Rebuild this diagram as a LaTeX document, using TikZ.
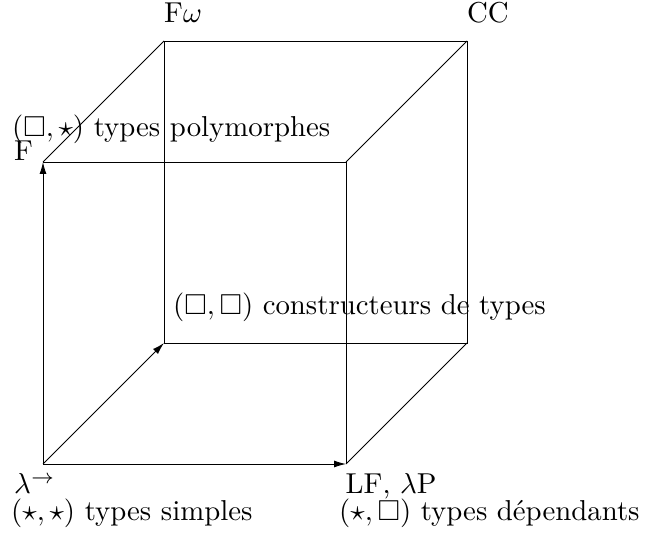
\documentclass[tikz,border=0pt]{standalone}
\usepackage{amssymb}
\usepackage{graphicx}
\usetikzlibrary{arrows.meta}
\newcommand{\lbl}[1]{\scalebox{2.88}{#1}}
\begin{document}
\begin{tikzpicture}[x=1pt,y=-1pt,
  edge/.style={line width=0.9pt},
  arr/.style={line width=0.9pt,-{Latex[length=12pt,width=7pt]}},
  lab/.style={inner sep=0pt,anchor=base west}]
\useasboundingbox (0,0) rectangle (649,537);
% corners
\coordinate (fbl) at (43,464);
\coordinate (fbr) at (346,464);
\coordinate (ftl) at (43,162);
\coordinate (ftr) at (346,162);
\coordinate (bbl) at (164,343);
\coordinate (bbr) at (467,343);
\coordinate (btl) at (164,41);
\coordinate (btr) at (467,41);
% edges
\draw[edge] (ftl) -- (ftr) -- (fbr);
\draw[edge] (bbl) -- (bbr) -- (btr) -- (btl) -- (bbl);
\draw[edge] (ftl) -- (btl);
\draw[edge] (ftr) -- (btr);
\draw[edge] (fbr) -- (bbr);
\draw[arr] (fbl) -- (ftl);
\draw[arr] (fbl) -- (fbr);
\draw[arr] (fbl) -- (bbl);
% labels
\node[lab] (lFw) at (164,23) {\lbl{F$\omega$}};
\node[lab] (lCC) at (467,23) {\lbl{CC}};
\node[lab] (lF) at (14,161) {\lbl{F}};
\node[lab] (lpoly) at (12,137) {\lbl{$(\Box,\star)$ types polymorphes}};
\node[lab] (lcons) at (173,315) {\lbl{$(\Box,\Box)$ constructeurs de types}};
\node[lab] (llam) at (14,494) {\lbl{$\lambda^{\rightarrow}$}};
\node[lab] (lsimp) at (11,521) {\lbl{$(\star,\star)$ types simples}};
\node[lab] (lLF) at (345.5,494) {\lbl{LF, $\lambda$P}};
\node[lab] (ldep) at (339,521) {\lbl{$(\star,\Box)$ types dépendants}};
\end{tikzpicture}
\end{document}
